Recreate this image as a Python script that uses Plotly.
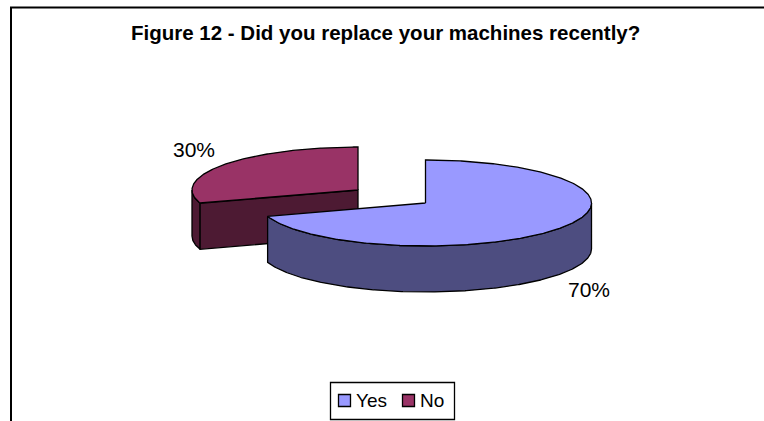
import numpy as np
import plotly.graph_objects as go

TITLE = "Figure 12 - Did you replace your machines recently?"
categories = ["Yes", "No"]
values = [70, 30]
top_colors = ["#9999FF", "#993366"]
side_colors = ["#4D4D80", "#4D1A33"]

W, H = 764, 421
RX, RY, DEPTH = 166, 43, 46
CENTERS = {"Yes": (425.5, 203), "No": (358, 190)}
FONT = "Liberation Sans, Arial, sans-serif"


def rim(c, a0, a1, dy=0):
    t = np.radians(np.linspace(a0, a1, max(int(abs(a1 - a0)) * 2, 2)))
    return c[0] + RX * np.sin(t), c[1] - RY * np.cos(t) + dy


def poly(fig, xs, ys, color, name):
    fig.add_trace(go.Scatter(x=list(xs), y=list(ys), mode="lines", fill="toself",
                             fillcolor=color, line=dict(color="black", width=1.3),
                             hoverinfo="skip", showlegend=False, name=name))


fig = go.Figure()
total = sum(values)
angles = {}
start = 0
for cat, v in zip(categories, values):
    angles[cat] = (start, start + 360 * v / total)
    start += 360 * v / total

# drawing order: the rear slice first, so the front slice overlaps its cut face
for cat in ["No", "Yes"]:
    i = categories.index(cat)
    c = CENTERS[cat]
    a0, a1 = angles[cat]
    top, side = top_colors[i], side_colors[i]
    # outer wall: the part of the rim that faces the viewer (90..270 degrees)
    w0, w1 = max(a0, 90), min(a1, 270)
    if w1 > w0:
        x, y = rim(c, w0, w1)
        xb, yb = rim(c, w1, w0, DEPTH)
        poly(fig, np.r_[x, xb, x[0]], np.r_[y, yb, y[0]], side, cat)
    # cut face that faces the viewer
    if a0 >= 180:
        x0, y0 = rim(c, a0, a0)
        xs = [x0[0], c[0], c[0], x0[0], x0[0]]
        ys = [y0[0], c[1], c[1] + DEPTH, y0[0] + DEPTH, y0[0]]
        poly(fig, xs, ys, side, cat)
    # top face
    x, y = rim(c, a0, a1)
    poly(fig, np.r_[c[0], x, c[0]], np.r_[c[1], y, c[1]], top, cat)
    # percentage label
    mid = np.radians((a0 + a1) / 2)
    sign = 1 if values[i] > 50 else -1
    lx = c[0] + RX * np.sin(mid) + sign * 29.5
    ly = c[1] - RY * np.cos(mid) + (DEPTH if sign > 0 else 0) + sign * 15.5
    fig.add_annotation(x=lx, y=ly, text=f"{values[i]}%", showarrow=False,
                       font=dict(family=FONT, size=21, color="black"))

# legend
LEG_X = [344.5, 408.5]
LEG_Y = 400.5
fig.add_shape(type="rect", x0=330.5, x1=454.5, y0=382.5, y1=419.5, layer="below",
              line=dict(color="black", width=1.3), fillcolor="white")
fig.add_trace(go.Scatter(x=LEG_X, y=[LEG_Y, LEG_Y], mode="markers",
                         marker=dict(symbol="square", size=12, color=top_colors,
                                     line=dict(color="black", width=1.3)),
                         hoverinfo="skip", showlegend=False))
for lx, cat in zip(LEG_X, categories):
    fig.add_annotation(x=lx + 11, y=LEG_Y, text=cat, showarrow=False, xanchor="left",
                       xshift=-2, font=dict(family=FONT, size=19, color="black"))

# chart frame
fig.add_trace(go.Scatter(x=[11, 11, W], y=[H, 7.5, 7.5], mode="lines",
                         line=dict(color="black", width=2), hoverinfo="skip", showlegend=False))

fig.add_annotation(x=385, y=32, text=f"<b>{TITLE}</b>", showarrow=False,
                   font=dict(family=FONT, size=20.5, color="black"))

fig.update_layout(width=W, height=H, margin=dict(l=0, r=0, t=0, b=0),
                  paper_bgcolor="white", plot_bgcolor="white", showlegend=False,
                  xaxis=dict(range=[0, W], visible=False, fixedrange=True),
                  yaxis=dict(range=[H, 0], visible=False, fixedrange=True))
fig.write_html("out.html", config={"displayModeBar": False},
               post_script="document.body.style.margin='0';document.body.style.overflow='hidden';")
